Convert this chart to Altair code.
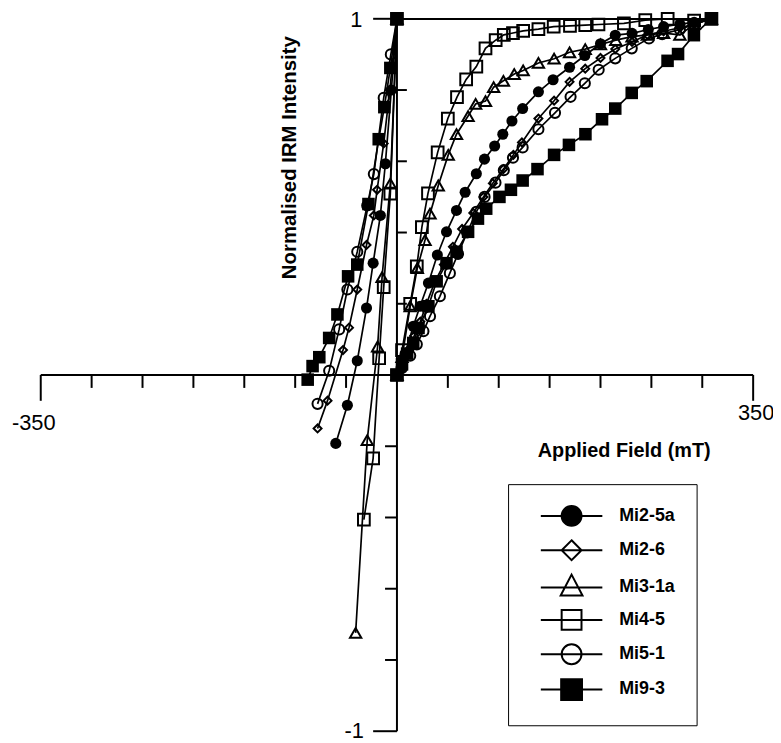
import altair as alt
import pandas as pd

series_names = ["Mi2-5a", "Mi2-6", "Mi3-1a", "Mi4-5", "Mi5-1", "Mi9-3"]

# Each series: IRM acquisition (0 -> ~310 mT) followed by back-field (0 -> negative fields)
mi2_5a_field = [0, 4, 8, 16, 22.7, 30.9, 39.7, 48.7, 58.5, 67, 78, 86, 96, 104, 113, 123.5, 139, 153.4, 169.6, 184.6, 200, 214.5, 231, 247, 262, 278, 292, 309,
                0, -5.5, -11.4, -16.3, -23.4, -29.9, -39, -48.7, -60.1]
mi2_5a_irm = [0, 0.02, 0.06, 0.137, 0.193, 0.258, 0.337, 0.402, 0.462, 0.513, 0.565, 0.606, 0.643, 0.676, 0.713, 0.748, 0.795, 0.829, 0.864, 0.897, 0.93, 0.954, 0.959, 0.97, 0.978, 0.985, 0.99, 1.0,
              1.0, 0.8, 0.593, 0.448, 0.314, 0.188, 0.04, -0.085, -0.192]

mi2_6_field = [0, 5, 11, 17, 23, 29, 37, 46, 55, 64, 75, 85, 94.2, 104.6, 114.4, 122.8, 139, 154.4, 169.6, 185, 200, 214.5, 231, 246, 262, 278, 292, 309,
               0, -7, -13, -19.5, -22.7, -29.9, -39, -47.1, -53, -68.2, -78]
mi2_6_irm = [0, 0.025, 0.07, 0.11, 0.15, 0.2, 0.26, 0.31, 0.36, 0.41, 0.455, 0.5, 0.538, 0.578, 0.618, 0.653, 0.72, 0.77, 0.823, 0.86, 0.89, 0.915, 0.935, 0.955, 0.965, 0.975, 0.985, 1.0,
             1.0, 0.8, 0.65, 0.52, 0.448, 0.365, 0.24, 0.133, 0.07, -0.072, -0.15]

mi3_1a_field = [0, 5, 13, 20, 27.6, 32.5, 40.6, 50.4, 58.5, 69.9, 77.3, 87, 95, 104.6, 115.3, 124, 139, 154.4, 169.6, 185, 200, 215, 231, 246, 262, 278, 292, 309,
                0, -6.5, -14.6, -19, -29.2, -40.6]
mi3_1a_irm = [0, 0.05, 0.193, 0.3, 0.379, 0.453, 0.532, 0.618, 0.676, 0.727, 0.761, 0.769, 0.808, 0.826, 0.845, 0.855, 0.876, 0.888, 0.906, 0.915, 0.928, 0.94, 0.95, 0.955, 0.96, 0.955, 0.985, 1.0,
              1.0, 0.537, 0.275, 0.08, -0.183, -0.724]

mi4_5_field = [0, 5, 13, 19.5, 24.5, 30.5, 40, 50, 59, 68, 78, 87, 97, 105, 114, 124, 139, 154, 170, 185, 198, 223, 244, 266, 292, 309,
               0, -6.5, -13, -17.5, -23.4, -32.5]
mi4_5_irm = [0, 0.07, 0.2, 0.305, 0.415, 0.51, 0.625, 0.72, 0.78, 0.83, 0.866, 0.917, 0.94, 0.955, 0.96, 0.966, 0.971, 0.978, 0.98, 0.982, 0.984, 0.987, 0.996, 1.0, 0.995, 1.0,
             1.0, 0.509, 0.247, 0.047, -0.234, -0.406]

mi5_1_field = [0, 5, 13, 19.5, 26, 32.5, 42.2, 52, 60, 69, 78, 86.1, 96.8, 105, 114, 123.5, 139, 155.3, 170.6, 184.6, 198.2, 214.5, 230.7, 247.6, 260.6, 278, 292, 309,
               0, -6, -13, -22.7, -29.2, -39, -48.7, -56.8, -66.6, -78]
mi5_1_irm = [0, 0.02, 0.054, 0.086, 0.123, 0.165, 0.221, 0.286, 0.34, 0.4, 0.458, 0.5, 0.54, 0.575, 0.61, 0.639, 0.69, 0.736, 0.781, 0.819, 0.857, 0.889, 0.917, 0.945, 0.957, 0.97, 0.985, 1.0,
             1.0, 0.9, 0.778, 0.564, 0.476, 0.346, 0.24, 0.128, 0.012, -0.081]

mi9_3_field = [0, 5, 10, 16, 21.2, 30.9, 39, 48.7, 58.5, 69.9, 79.6, 87.7, 100.7, 112, 123.5, 138.1, 154.4, 169, 185.2, 201.5, 214.5, 230.7, 245.4, 265.9, 276.2, 291.8, 308.8,
               0, -6.5, -12.4, -17.9, -28, -39, -48, -58.5, -66.6, -76.3, -82.9, -87.7]
mi9_3_irm = [0, 0.03, 0.06, 0.09, 0.132, 0.193, 0.263, 0.314, 0.346, 0.402, 0.439, 0.467, 0.5, 0.52, 0.546, 0.578, 0.618, 0.646, 0.676, 0.718, 0.748, 0.792, 0.825, 0.882, 0.901, 0.954, 1.0,
             1.0, 0.862, 0.752, 0.662, 0.48, 0.31, 0.277, 0.17, 0.104, 0.05, 0.025, -0.013]

x_ticks_inner = [-300, -250, -200, -150, -100, -50, 50, 100, 150, 200, 250, 300]
x_ticks_end = [-350, 350]
y_ticks_upper = [0.2, 0.4, 0.6, 0.8]
y_ticks_lower = [-0.2, -0.4, -0.6, -0.8]
y_ticks_end = [1, -1]

series_data = [
    ("Mi2-5a", mi2_5a_field, mi2_5a_irm),
    ("Mi2-6", mi2_6_field, mi2_6_irm),
    ("Mi3-1a", mi3_1a_field, mi3_1a_irm),
    ("Mi4-5", mi4_5_field, mi4_5_irm),
    ("Mi5-1", mi5_1_field, mi5_1_irm),
    ("Mi9-3", mi9_3_field, mi9_3_irm),
]
rows = []
for name, fx, fy in series_data:
    for i, (a, b) in enumerate(zip(fx, fy)):
        rows.append({"series": name, "field": a, "irm": b, "order": i})
df = pd.DataFrame(rows)

FONT = "Liberation Sans"
xs = alt.Scale(domain=[-350, 350], nice=False, zero=False)
ys = alt.Scale(domain=[-1, 1], nice=False, zero=False)
X = alt.X("field:Q", scale=xs, axis=None)
Y = alt.Y("irm:Q", scale=ys, axis=None)

base = alt.Chart(df)
lines = base.mark_line(color="black", strokeWidth=1.7).encode(
    x=X, y=Y, detail="series:N", order="order:Q")

marker_style = {
    "Mi2-5a": dict(shape="circle", filled=True, size=125),
    "Mi2-6": dict(shape="diamond", filled=False, size=64),
    "Mi3-1a": dict(shape="triangle-up", filled=False, size=130),
    "Mi4-5": dict(shape="square", filled=False, size=140),
    "Mi5-1": dict(shape="circle", filled=False, size=105),
    "Mi9-3": dict(shape="square", filled=True, size=160),
}
point_layers = []
for s in series_names:
    st = marker_style[s]
    point_layers.append(
        base.transform_filter(alt.datum.series == s)
        .mark_point(shape=st["shape"], filled=st["filled"], size=st["size"],
                    color="black", strokeWidth=2, opacity=1)
        .encode(x=X, y=Y)
    )

axis_x_line = alt.Chart(pd.DataFrame({"a": [-350], "b": [350], "c": [0]})).mark_rule(
    color="black", strokeWidth=2).encode(
    x=alt.X("a:Q", scale=xs, axis=None), x2="b:Q", y=alt.Y("c:Q", scale=ys, axis=None))
axis_y_line = alt.Chart(pd.DataFrame({"a": [-1], "b": [1], "c": [0]})).mark_rule(
    color="black", strokeWidth=2).encode(
    y=alt.Y("a:Q", scale=ys, axis=None), y2="b:Q", x=alt.X("c:Q", scale=xs, axis=None))

def xtick_layer(vals, length):
    d = pd.DataFrame({"v": vals, "z": [0] * len(vals)})
    return alt.Chart(d).mark_rule(color="black", strokeWidth=2, y2Offset=length).encode(
        x=alt.X("v:Q", scale=xs, axis=None), y=alt.Y("z:Q", scale=ys, axis=None), y2="z:Q")

def ytick_layer(vals, length):
    d = pd.DataFrame({"v": vals, "z": [0] * len(vals)})
    return alt.Chart(d).mark_rule(color="black", strokeWidth=2, x2Offset=length).encode(
        y=alt.Y("v:Q", scale=ys, axis=None), x=alt.X("z:Q", scale=xs, axis=None), x2="z:Q")

ticks = [
    xtick_layer(x_ticks_inner, 13),
    xtick_layer(x_ticks_end, 26),
    ytick_layer(y_ticks_upper, 10),
    ytick_layer(y_ticks_lower, -12),
    ytick_layer(y_ticks_end, -24),
]

def label(text, xv, yv, dx, dy, size=22, weight="normal"):
    return alt.Chart(pd.DataFrame({"x": [xv], "y": [yv], "t": [text]})).mark_text(
        font=FONT, fontSize=size, fontWeight=weight, color="black",
        align="center", baseline="middle", dx=dx, dy=dy).encode(
        x=alt.X("x:Q", scale=xs, axis=None), y=alt.Y("y:Q", scale=ys, axis=None), text="t:N")

tick_labels = [
    label("-350", -350, 0, -7, 48),
    label("350", 350, 0, 3, 38),
    label("1", 0, 1, -41, 1),
    label("-1", 0, -1, -43, 0),
]

title_x = alt.Chart(pd.DataFrame({"t": ["Applied Field (mT)"]})).mark_text(
    font=FONT, fontSize=20, fontWeight="bold", color="black", align="center", baseline="middle").encode(
    x=alt.value(588), y=alt.value(436), text="t:N")
title_y = alt.Chart(pd.DataFrame({"t": ["Normalised IRM Intensity"]})).mark_text(
    font=FONT, fontSize=20.5, fontWeight="bold", color="black", align="center", baseline="middle", angle=270).encode(
    x=alt.value(251), y=alt.value(140), text="t:N")

# legend (built by Vega-Lite from an explicit scale domain); symbols carry a line through them
C = 3.2
L0, L1 = 0.1, 6.3
legend_paths = [
    f"M{L0},0H{L1} M{C-1},0A1,1 0 1,1 {C+1},0A1,1 0 1,1 {C-1},0Z",
    f"M{L0},0H{L1} M{C},-1L{C+1},0L{C},1L{C-1},0Z",
    f"M{L0},0H{L1} M{C},-1.3L{C+1.1},0.8L{C-1.1},0.8Z",
    f"M{L0},0H{L1} M{C-1},-1H{C+1}V1H{C-1}Z",
    f"M{L0},0H{L1} M{C-1},0A1,1 0 1,1 {C+1},0A1,1 0 1,1 {C-1},0Z",
    f"M{L0},0H{L1} M{C-1.05},-1.05H{C+1.05}V1.05H{C-1.05}Z",
]
legend_fills = ["black", "transparent", "transparent", "transparent", "transparent", "black"]
legend_strokes = ["black"] * 6
leg = alt.Legend(orient="none", legendX=471, legendY=469, title=None, padding=21,
                 strokeColor="black", symbolSize=400, symbolStrokeWidth=2, symbolOpacity=1,
                 symbolStrokeColor="black", labelFont=FONT, labelFontWeight="bold",
                 labelFontSize=18, labelColor="black", labelOffset=69, rowPadding=6.6)
legend_layer = alt.Chart(pd.DataFrame({"series": series_names})).transform_filter("false").mark_point(
    filled=True, size=400, strokeWidth=2, opacity=1).encode(
    shape=alt.Shape("series:N", scale=alt.Scale(domain=series_names, range=legend_paths), legend=leg),
    fill=alt.Fill("series:N", scale=alt.Scale(domain=series_names, range=legend_fills), legend=leg),
    stroke=alt.Stroke("series:N", scale=alt.Scale(domain=series_names, range=legend_strokes), legend=leg),
)

chart = alt.layer(
    axis_x_line, axis_y_line, *ticks, lines, *point_layers, *tick_labels, title_x, title_y, legend_layer
).properties(
    width=718, height=718,
    autosize=alt.AutoSizeParams(type="none"),
    padding={"left": 33, "top": 8, "right": 20, "bottom": 9},
).configure(background="white").configure_view(strokeWidth=0, stroke="transparent")

chart.save("out.html", embed_options={"renderer": "svg", "actions": False})
